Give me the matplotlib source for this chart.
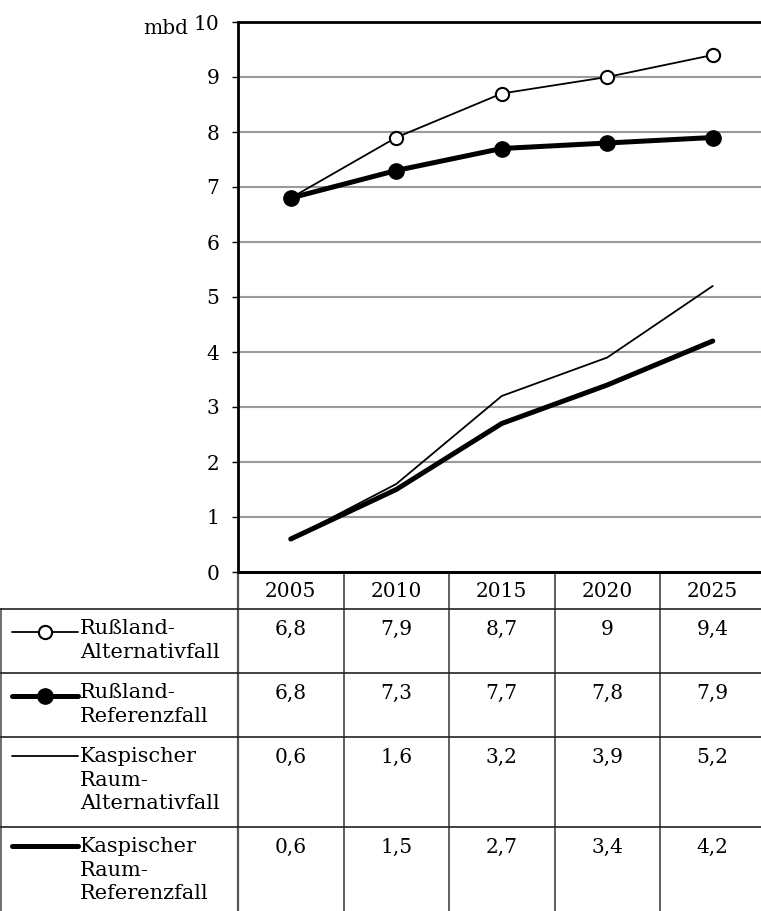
import numpy as np
import matplotlib
matplotlib.use('Agg')
import matplotlib.pyplot as plt

plt.rcParams['font.family'] = 'DejaVu Serif'

years = ['2005', '2010', '2015', '2020', '2025']
russ_alt = [6.8, 7.9, 8.7, 9.0, 9.4]
russ_ref = [6.8, 7.3, 7.7, 7.8, 7.9]
kasp_alt = [0.6, 1.6, 3.2, 3.9, 5.2]
kasp_ref = [0.6, 1.5, 2.7, 3.4, 4.2]
names = ['Rußland-\nAlternativfall', 'Rußland-\nReferenzfall',
         'Kaspischer\nRaum-\nAlternativfall', 'Kaspischer\nRaum-\nReferenzfall']
series = [russ_alt, russ_ref, kasp_alt, kasp_ref]
styles = [dict(lw=1.3, marker='o', ms=9.5, mfc='white', mew=1.5),
          dict(lw=3.6, marker='o', ms=11, mfc='black'),
          dict(lw=1.3),
          dict(lw=3.6)]

W, H = 761, 911
col_w = 105.5
fs = 14.5
fs_lab = 15

fig = plt.figure(figsize=(W / 100, H / 100), dpi=100)
ax = fig.add_axes([238 / W, 1 - 572 / H, 5 * col_w / W, 550 / H])
x = np.arange(len(years))
for vals, st in zip(series, styles):
    ax.plot(x, vals, color='black', solid_capstyle='round', zorder=3, **st)

ax.set_xlim(-0.5, 4.5)
ax.set_ylim(0, 10)
ax.set_yticks(range(11))
ax.set_xticks([])
ax.yaxis.grid(True, color='#9a9a9a', lw=1.5)
ax.set_axisbelow(True)
ax.tick_params(axis='y', length=4.5, width=1, pad=9, labelsize=fs)
for s in ['left', 'bottom', 'top']:
    ax.spines[s].set_linewidth(2)
ax.spines['right'].set_visible(False)
fig.text(188 / W, 1 - 29 / H, 'mbd', ha='right', va='center', fontsize=fs)

# table under the chart, x in category units
def xp(p):
    return -0.5 + (p - 238) / col_w

tax = fig.add_axes([0, 0, 765.5 / W, 339 / H])
tax.set_xlim(xp(0), 4.5)
tax.set_ylim(339, 0)
tax.axis('off')

head_h = 37
row_h = [64, 64, 90, 90]
edges = np.concatenate([[0, head_h], head_h + np.cumsum(row_h)])
bottom = edges[-1]

for i, yr in enumerate(years):
    tax.text(i, head_h / 2 + 1, yr, ha='center', va='center', fontsize=fs)
for i in range(1, 5):
    tax.plot([i - 0.5, i - 0.5], [0, bottom], color='#444444', lw=1.2, clip_on=False)
tax.plot([-0.5, -0.5], [0, bottom], color='#555555', lw=1.6, clip_on=False)
tax.plot([xp(1), xp(1)], [head_h, bottom], color='#555555', lw=1.2, clip_on=False)
for e in edges[1:-1]:
    tax.plot([xp(1), 4.5], [e, e], color='#222222', lw=1.2, clip_on=False)
tax.plot([-0.5, 4.5], [0, 0], color='black', lw=2, clip_on=False)

for r, (name, vals, st) in enumerate(zip(names, series, styles)):
    top = edges[r + 1]
    ly = top + 23 if r < 2 else top + 19
    tax.plot([xp(12), xp(45), xp(78)], [ly, ly, ly], color='black',
             markevery=[1], solid_capstyle='round', clip_on=False, **st)
    tax.text(xp(80), top + 10, name, ha='left', va='top', fontsize=fs_lab,
             linespacing=1.3)
    for i, v in enumerate(vals):
        lab = ('%g' % v).replace('.', ',')
        tax.text(i, top + 11, lab, ha='center', va='top', fontsize=fs)

fig.savefig('out.png', dpi=100)
